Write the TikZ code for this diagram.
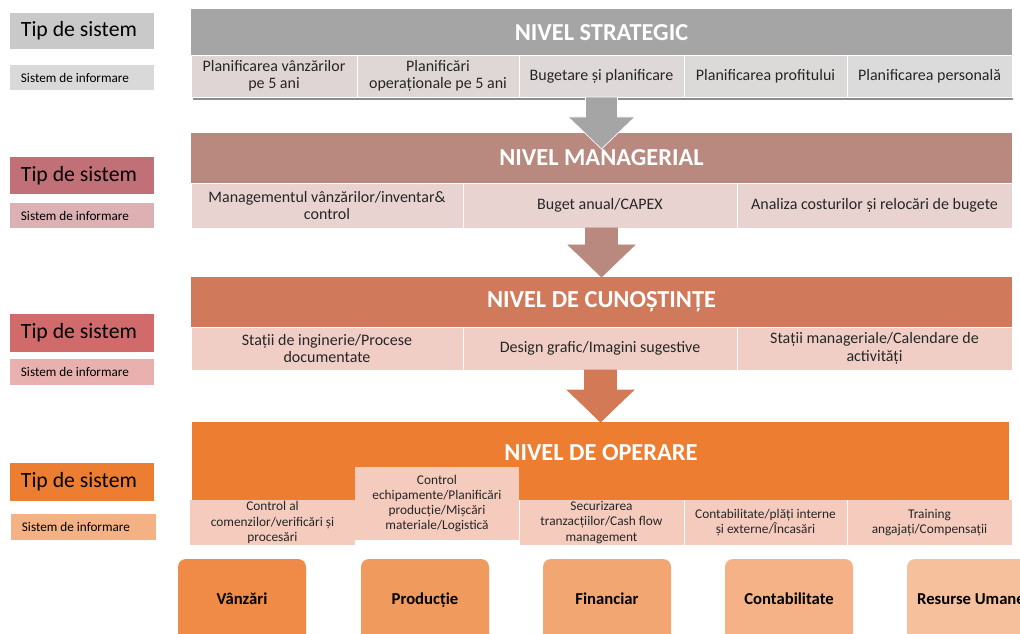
\documentclass[tikz,border=0pt]{standalone}
\usepackage{fontspec}
\setmainfont{Carlito}
\usetikzlibrary{calc}

% level colours
\definecolor{strHdr}{HTML}{A5A5A5}
\definecolor{strTip}{HTML}{C9C9C9}
\definecolor{strSis}{HTML}{D9D9D9}
\definecolor{strC1}{HTML}{E0D5D5}
\definecolor{strC2}{HTML}{DFD6D6}
\definecolor{strC3}{HTML}{DED8D8}
\definecolor{strC4}{HTML}{DCDAD9}
\definecolor{strC5}{HTML}{DBDBDB}
\definecolor{manHdr}{HTML}{B9897F}
\definecolor{manCell}{HTML}{E8D3D1}
\definecolor{manTip}{HTML}{C27077}
\definecolor{manSis}{HTML}{DDB0B3}
\definecolor{cunHdr}{HTML}{D1795B}
\definecolor{cunCell}{HTML}{F0CEC5}
\definecolor{cunTip}{HTML}{D16A6A}
\definecolor{cunSis}{HTML}{E9B0B0}
\definecolor{opHdr}{HTML}{ED7D31}
\definecolor{opCell}{HTML}{F4CBBD}
\definecolor{opSis}{HTML}{F4B183}
\definecolor{dep1}{HTML}{EF8B47}
\definecolor{dep2}{HTML}{F19A5E}
\definecolor{dep3}{HTML}{F2A672}
\definecolor{dep4}{HTML}{F4B286}
\definecolor{dep5}{HTML}{F6C09C}
\definecolor{txt}{HTML}{262626}

% rectangle node given by its corners (x1,y1) (x2,y2)
\newcommand\blk[7]{\node[#1, minimum width={((#5)-(#3))*0.75pt}, minimum height={((#6)-(#4))*0.75pt}] (#2) at ({((#3)+(#5))/2},{((#4)+(#6))/2}) {#7};}

% block arrow from the bottom of one level to a tip point
\newcommand\levelarrow[4]{\path[fill=#1, draw=#2, line width=0.5pt] let \p1=(#3), \p2=(#4) in
  (\x2-12pt,\y1) -- (\x2+12pt,\y1) -- (\x2+12pt,\y2+24pt) -- (\x2+25pt,\y2+24pt) -- (\x2,\y2)
  -- (\x2-25pt,\y2+24pt) -- (\x2-12pt,\y2+24pt) -- cycle;}

\begin{document}
\begin{tikzpicture}[x=0.75pt,y=-0.75pt,
  box/.style={rectangle, inner sep=0pt, outer sep=0pt, align=center},
  cell/.style={box, draw=white, line width=0.5pt, text=txt, font=\fontsize{12}{13}\selectfont},
  opcellbox/.style={box, fill=opCell, text=txt, font=\fontsize{10}{11.4}\selectfont},
  title/.style={inner sep=0pt, text=white, font=\fontsize{18.3}{21}\selectfont\bfseries},
  tiptext/.style={anchor=west, inner sep=0pt, text=black, font=\fontsize{16.3}{19}\selectfont},
  sistext/.style={anchor=west, inner sep=0pt, text=black, font=\fontsize{9.9}{12}\selectfont},
  dept/.style={rectangle, rounded corners=6pt, inner sep=0pt, outer sep=0pt},
  depttext/.style={anchor=base, inner sep=0pt, text=black, font=\fontsize{12.5}{14}\selectfont\bfseries}]
\path[use as bounding box] (0,0) rectangle (1020,634);
\clip (0,0) rectangle (1020,634);

% ---------- left column: system type labels ----------
\blk{box, fill=strTip}{tip1}{10}{13}{154}{49}{}
\blk{box, fill=strSis}{sis1}{10}{65}{154}{90}{}
\blk{box, fill=manTip}{tip2}{10}{157}{154}{194}{}
\blk{box, fill=manSis}{sis2}{10}{203}{154}{228}{}
\blk{box, fill=cunTip}{tip3}{10}{314}{154}{352}{}
\blk{box, fill=cunSis}{sis3}{10}{359}{154}{385}{}
\blk{box, fill=opHdr}{tip4}{10}{463}{154}{501}{}
\blk{box, fill=opSis}{sis4}{11}{514}{156}{540}{}
\foreach \i in {1,2,3,4}{
  \node[tiptext] (tipt\i) at ([xshift=8pt]tip\i.west) {Tip de sistem};
  \node[sistext] (sist\i) at ([xshift=8pt]sis\i.west) {Sistem de informare};
}

% ---------- strategic level ----------
\fill[black!45] (193,95) rectangle (1013,100);
\blk{box, fill=strHdr}{strat}{191}{9}{1012}{55}{}
\node[title] (stratT) at (601.5,33) {NIVEL STRATEGIC};
\blk{cell, fill=strC1}{s1}{191}{55}{357}{97}{Planificarea vânzărilor\\pe 5 ani}
\blk{cell, fill=strC2}{s2}{357}{55}{519}{97}{Planificări\\operaționale pe 5 ani}
\blk{cell, fill=strC3}{s3}{519}{55}{684}{97}{Bugetare și planificare}
\blk{cell, fill=strC4}{s4}{684}{55}{847}{97}{Planificarea profitului}
\blk{cell, fill=strC5}{s5}{847}{55}{1012}{97}{Planificarea personală}

% ---------- managerial level ----------
\blk{box, fill=manHdr}{man}{191}{133}{1012}{183}{}
\node[title] (manT) at (601.5,158) {NIVEL MANAGERIAL};
\blk{cell, fill=manCell}{m1}{191}{183}{463}{228}{Managementul vânzărilor/inventar\&\\control}
\blk{cell, fill=manCell}{m2}{463}{183}{737}{228}{Buget anual/CAPEX}
\blk{cell, fill=manCell}{m3}{737}{183}{1012}{228}{Analiza costurilor și relocări de bugete}

% ---------- knowledge level ----------
\blk{box, fill=cunHdr}{cun}{191}{277}{1012}{327}{}
\node[title] (cunT) at (601.5,302) {NIVEL DE CUNOȘTINȚE};
\blk{cell, fill=cunCell}{k1}{191}{327}{463}{370}{Stații de inginerie/Procese\\documentate}
\blk{cell, fill=cunCell}{k2}{463}{327}{737}{370}{Design grafic/Imagini sugestive}
\blk{cell, fill=cunCell}{k3}{737}{327}{1012}{370}{Stații manageriale/Calendare de\\activități}

% ---------- operational level ----------
\blk{box, fill=opHdr}{op}{192}{422}{1009}{500}{}
\node[title] (opT) at (601,453) {NIVEL DE OPERARE};
\blk{opcellbox}{o1}{190}{500}{355}{545}{Control al\\comenzilor/verificări și\\procesări}
\blk{opcellbox}{o2}{355}{467}{519}{540}{Control\\echipamente/Planificări\\producție/Mișcări\\materiale/Logistică}
\blk{opcellbox}{o3}{519}{500}{684}{545}{Securizarea\\tranzacțiilor/Cash flow\\management}
\blk{opcellbox}{o4}{684}{500}{847}{545}{Contabilitate/plăți interne\\și externe/Încasări}
\blk{opcellbox}{o5}{847}{500}{1012}{545}{Training\\angajați/Compensații}
\draw[white, line width=0.5pt] (o3.north west) -- (o3.south west) (o4.north west) -- (o4.south west) (o5.north west) -- (o5.south west);

% ---------- arrows between levels ----------
\coordinate (tip1) at (601.5,149);
\levelarrow{strHdr}{white}{s3.south}{tip1}
\levelarrow{manHdr}{manHdr}{m2.south}{cun.north}
\levelarrow{cunHdr!95!orange}{cunHdr!95!orange}{k2.south}{op.north}

% ---------- departments ----------
\blk{dept, fill=dep1}{d1}{178}{559}{306}{680}{}
\blk{dept, fill=dep2}{d2}{361}{559}{489}{680}{}
\blk{dept, fill=dep3}{d3}{543}{559}{671}{680}{}
\blk{dept, fill=dep4}{d4}{725}{559}{853}{680}{}
\blk{dept, fill=dep5}{d5}{907}{559}{1035}{680}{}
\node[depttext] (d1t) at (242,604) {Vânzări};
\node[depttext] (d2t) at (425,604) {Producție};
\node[depttext] (d3t) at (607,604) {Financiar};
\node[depttext] (d4t) at (789,604) {Contabilitate};
\node[depttext] (d5t) at (971,604) {Resurse Umane};
\end{tikzpicture}
\end{document}
